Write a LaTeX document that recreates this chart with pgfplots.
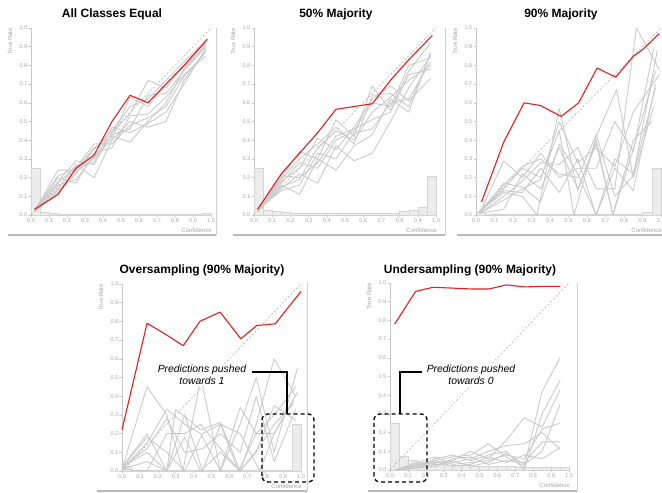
\documentclass[border=0pt]{standalone}
\usepackage{fontspec}
\setmainfont{Liberation Sans}
\usepackage{pgfplots}
\pgfplotsset{compat=1.18}
\definecolor{redl}{RGB}{226,30,30}
\definecolor{gl}{RGB}{202,202,202}
\definecolor{axg}{RGB}{200,200,200}
\definecolor{labg}{RGB}{165,165,165}
\definecolor{hfill}{RGB}{236,236,236}
\definecolor{hdraw}{RGB}{212,212,212}
\definecolor{frameg}{RGB}{185,185,185}
\pgfplotsset{
 calib/.style={
  scale only axis, anchor=south west,
  xmin=0,xmax=1,ymin=0,ymax=1,
  axis lines*=left,
  axis line style={-,draw=axg,line width=0.6pt},
  xtick={0,0.1,0.2,0.3,0.4,0.5,0.6,0.7,0.8,0.9,1},
  ytick={0,0.1,0.2,0.3,0.4,0.5,0.6,0.7,0.8,0.9,1},
  tick align=outside, major tick length=2.5pt,
  tick style={draw=axg,line width=0.5pt},
  ticklabel style={font=\fontsize{5.5}{6}\selectfont, text=labg, inner sep=1pt},
  /pgf/number format/fixed, /pgf/number format/fixed zerofill,
  /pgf/number format/precision=1, /pgf/number format/assume math mode=true,
  clip=false,
 },
 gline/.style={gl, line width=0.9pt, line join=round},
 rline/.style={redl, line width=1.1pt, line join=round},
 hist/.style={ybar interval, fill=hfill, draw=hdraw, line width=0.4pt},
 diag/.style={labg, dash pattern=on 2pt off 2pt, line width=0.5pt},
}
\newcommand{\axlabels}{%
 \node[rotate=90, anchor=east, inner sep=0pt, font=\fontsize{6}{7}\selectfont, text=labg] at ([xshift=-21pt]rel axis cs:0,1) {True Rate};
 \node[anchor=east, inner sep=0pt, font=\fontsize{6}{7}\selectfont, text=labg] at ([yshift=-15pt, xshift=1pt]rel axis cs:1,0) {Confidence};
}
\begin{document}
\begin{tikzpicture}[x=1pt,y=1pt]
\path[use as bounding box] (0,0) rectangle (662,493);
% frames
\draw[frameg, line width=2pt] (8,258) -- (216,258);
\draw[frameg!70, line width=0.8pt] (216,258) -- (216,465);
\draw[frameg, line width=2pt] (233,258) -- (445,258);
\draw[frameg!70, line width=0.8pt] (445,258) -- (445,465);
\draw[frameg, line width=2pt] (457,258) -- (662,258);
\draw[frameg, line width=2pt] (97,2) -- (307,2);
\draw[frameg!70, line width=0.8pt] (307,2) -- (307,210);
\draw[frameg, line width=2pt] (368,2) -- (577,2);
\draw[frameg!70, line width=0.8pt] (577,2) -- (577,210);

% ---------- Panel 1
\begin{axis}[calib, at={(31pt,278pt)}, width=180pt, height=187pt]
\addplot[hist] coordinates {(0,0.25) (0.05,0.015) (0.1,0.008) (0.15,0.004) (0.2,0.003) (0.25,0.003) (0.3,0.003) (0.35,0.003) (0.4,0.003) (0.45,0.003) (0.5,0.003) (0.55,0.003) (0.6,0.003) (0.65,0.003) (0.7,0.003) (0.75,0.003) (0.8,0.003) (0.85,0.003) (0.9,0.004) (0.95,0.01) (1,0.01)};
\addplot[diag] coordinates {(0,0) (1,1)};
\addplot[gline] coordinates {(0.02,0.02) (0.15,0.24) (0.25,0.24) (0.35,0.36) (0.45,0.42) (0.55,0.39) (0.65,0.50) (0.75,0.60) (0.85,0.78) (0.97,0.90)};
\addplot[gline] coordinates {(0.02,0.03) (0.15,0.18) (0.25,0.29) (0.35,0.27) (0.45,0.44) (0.55,0.54) (0.65,0.72) (0.75,0.68) (0.85,0.80) (0.97,0.92)};
\addplot[gline] coordinates {(0.02,0.02) (0.15,0.14) (0.25,0.27) (0.35,0.20) (0.45,0.40) (0.55,0.50) (0.65,0.47) (0.75,0.50) (0.85,0.72) (0.97,0.88)};
\addplot[gline] coordinates {(0.02,0.03) (0.15,0.20) (0.25,0.17) (0.35,0.33) (0.45,0.36) (0.55,0.53) (0.65,0.54) (0.75,0.63) (0.85,0.75) (0.97,0.85)};
\addplot[gline] coordinates {(0.02,0.02) (0.15,0.12) (0.25,0.22) (0.35,0.35) (0.45,0.45) (0.55,0.58) (0.65,0.62) (0.75,0.72) (0.85,0.82) (0.97,0.93)};
\addplot[gline] coordinates {(0.02,0.03) (0.15,0.16) (0.25,0.19) (0.35,0.31) (0.45,0.43) (0.55,0.46) (0.65,0.64) (0.75,0.65) (0.85,0.77) (0.97,0.90)};
\addplot[gline] coordinates {(0.02,0.02) (0.15,0.21) (0.25,0.25) (0.35,0.38) (0.45,0.38) (0.55,0.48) (0.65,0.52) (0.75,0.58) (0.85,0.74) (0.97,0.87)};
\addplot[gline] coordinates {(0.02,0.03) (0.15,0.13) (0.25,0.23) (0.35,0.30) (0.45,0.41) (0.55,0.63) (0.65,0.58) (0.75,0.70) (0.85,0.79) (0.97,0.91)};
\addplot[gline] coordinates {(0.02,0.02) (0.15,0.17) (0.25,0.26) (0.35,0.28) (0.45,0.47) (0.55,0.44) (0.65,0.49) (0.75,0.55) (0.85,0.70) (0.97,0.89)};
\addplot[rline] coordinates {(0.02,0.03) (0.15,0.11) (0.25,0.25) (0.35,0.32) (0.45,0.50) (0.55,0.64) (0.65,0.60) (0.75,0.70) (0.85,0.80) (0.98,0.94)};
\axlabels
\end{axis}

% ---------- Panel 2
\begin{axis}[calib, at={(254pt,278pt)}, width=182pt, height=187pt]
\addplot[hist] coordinates {(0,0.25) (0.05,0.025) (0.1,0.018) (0.15,0.015) (0.2,0.01) (0.25,0.008) (0.3,0.008) (0.35,0.009) (0.4,0.008) (0.45,0.008) (0.5,0.008) (0.55,0.009) (0.6,0.009) (0.65,0.009) (0.7,0.012) (0.75,0.01) (0.8,0.02) (0.85,0.025) (0.9,0.04) (0.95,0.205) (1,0.205)};
\addplot[diag] coordinates {(0,0) (1,1)};
\addplot[gline] coordinates {(0.02,0.02) (0.15,0.20) (0.25,0.34) (0.35,0.30) (0.45,0.51) (0.55,0.42) (0.65,0.69) (0.75,0.56) (0.85,0.77) (0.97,0.92)};
\addplot[gline] coordinates {(0.02,0.03) (0.15,0.16) (0.25,0.11) (0.35,0.30) (0.45,0.24) (0.55,0.37) (0.65,0.43) (0.75,0.62) (0.85,0.55) (0.97,0.87)};
\addplot[gline] coordinates {(0.02,0.02) (0.15,0.14) (0.25,0.22) (0.35,0.17) (0.45,0.37) (0.55,0.29) (0.65,0.33) (0.75,0.50) (0.85,0.68) (0.97,0.85)};
\addplot[gline] coordinates {(0.02,0.03) (0.15,0.18) (0.25,0.25) (0.35,0.41) (0.45,0.35) (0.55,0.47) (0.65,0.62) (0.75,0.69) (0.85,0.61) (0.97,0.73)};
\addplot[gline] coordinates {(0.02,0.02) (0.15,0.15) (0.25,0.19) (0.35,0.36) (0.45,0.45) (0.55,0.40) (0.65,0.55) (0.75,0.63) (0.85,0.72) (0.97,0.80)};
\addplot[gline] coordinates {(0.02,0.02) (0.15,0.17) (0.25,0.28) (0.35,0.25) (0.45,0.40) (0.55,0.45) (0.65,0.60) (0.75,0.58) (0.85,0.80) (0.97,0.84)};
\addplot[gline] coordinates {(0.02,0.03) (0.15,0.13) (0.25,0.16) (0.35,0.33) (0.45,0.30) (0.55,0.44) (0.65,0.46) (0.75,0.60) (0.85,0.62) (0.97,0.82)};
\addplot[gline] coordinates {(0.02,0.02) (0.15,0.19) (0.25,0.30) (0.35,0.38) (0.45,0.47) (0.55,0.38) (0.65,0.64) (0.75,0.65) (0.85,0.58) (0.97,0.86)};
\addplot[gline] coordinates {(0.02,0.03) (0.15,0.21) (0.25,0.20) (0.35,0.28) (0.45,0.42) (0.55,0.46) (0.65,0.51) (0.75,0.55) (0.85,0.75) (0.97,0.78)};
\addplot[rline] coordinates {(0.02,0.03) (0.15,0.22) (0.25,0.33) (0.35,0.44) (0.45,0.565) (0.55,0.58) (0.65,0.595) (0.75,0.72) (0.85,0.83) (0.98,0.96)};
\axlabels
\end{axis}

% ---------- Panel 3
\begin{axis}[calib, at={(476pt,278pt)}, width=185pt, height=187pt]
\addplot[hist] coordinates {(0,0.015) (0.05,0.003) (0.1,0.002) (0.15,0.002) (0.2,0.002) (0.25,0.002) (0.3,0.002) (0.35,0.002) (0.4,0.002) (0.45,0.002) (0.5,0.002) (0.55,0.002) (0.6,0.002) (0.65,0.002) (0.7,0.002) (0.75,0.002) (0.8,0.003) (0.85,0.005) (0.9,0.017) (0.95,0.25) (1,0.25)};
\addplot[diag] coordinates {(0,0) (1,1)};
\addplot[gline] coordinates {(0.02,0.01) (0.15,0.29) (0.25,0.20) (0.35,0.33) (0.45,0.20) (0.55,0.25) (0.65,0.25) (0.75,0.50) (0.85,0.34) (0.96,0.89)};
\addplot[gline] coordinates {(0.02,0.02) (0.15,0.12) (0.25,0.10) (0.33,0.0) (0.45,0.57) (0.55,0.13) (0.65,0.40) (0.74,0.0) (0.85,0.35) (0.97,0.77)};
\addplot[gline] coordinates {(0.02,0.01) (0.15,0.17) (0.25,0.15) (0.35,0.07) (0.45,0.38) (0.55,0.22) (0.65,0.0) (0.75,0.25) (0.85,0.13) (0.97,0.70)};
\addplot[gline] coordinates {(0.02,0.02) (0.15,0.14) (0.25,0.25) (0.35,0.20) (0.45,0.45) (0.53,0.0) (0.65,0.42) (0.76,0.67) (0.85,0.20) (0.96,0.58)};
\addplot[gline] coordinates {(0.02,0.01) (0.15,0.10) (0.25,0.18) (0.35,0.28) (0.45,0.27) (0.55,0.36) (0.65,0.14) (0.75,0.14) (0.867,1.00) (0.99,0.78)};
\addplot[gline] coordinates {(0.02,0.01) (0.15,0.03) (0.25,0.22) (0.35,0.14) (0.45,0.36) (0.55,0.14) (0.65,0.38) (0.74,0.0) (0.85,0.40) (0.95,0.50)};
\addplot[gline] coordinates {(0.02,0.02) (0.15,0.13) (0.25,0.12) (0.35,0.25) (0.45,0.12) (0.55,0.30) (0.65,0.0) (0.75,0.30) (0.85,0.22) (0.97,0.68)};
\addplot[gline] coordinates {(0.02,0.01) (0.15,0.08) (0.25,0.14) (0.35,0.19) (0.45,0.50) (0.55,0.28) (0.65,0.36) (0.75,0.26) (0.85,0.55) (0.99,0.75)};
\addplot[gline] coordinates {(0.02,0.02) (0.15,0.16) (0.25,0.26) (0.35,0.30) (0.45,0.22) (0.55,0.20) (0.65,0.43) (0.75,0.10) (0.85,0.21) (0.98,0.88)};
\addplot[rline] coordinates {(0.03,0.07) (0.15,0.39) (0.26,0.60) (0.35,0.585) (0.46,0.527) (0.555,0.60) (0.655,0.786) (0.755,0.737) (0.85,0.848) (0.905,0.888) (0.99,0.97)};
\axlabels
\end{axis}

% ---------- Panel 4
\begin{axis}[calib, at={(122pt,22pt)}, width=179pt, height=187pt]
\addplot[hist] coordinates {(0,0.025) (0.05,0.005) (0.1,0.002) (0.15,0.002) (0.2,0.002) (0.25,0.002) (0.3,0.002) (0.35,0.002) (0.4,0.002) (0.45,0.002) (0.5,0.002) (0.55,0.002) (0.6,0.002) (0.65,0.002) (0.7,0.002) (0.75,0.002) (0.8,0.002) (0.85,0.003) (0.9,0.005) (0.95,0.25) (1,0.25)};
\addplot[diag] coordinates {(0,0) (1,1)};
\addplot[gline] coordinates {(0.0,0.01) (0.14,0.45) (0.25,0.30) (0.34,0.0) (0.44,0.50) (0.55,0.0) (0.66,0.25) (0.75,0.50) (0.85,0.10) (0.98,0.55)};
\addplot[gline] coordinates {(0.0,0.02) (0.14,0.20) (0.25,0.0) (0.30,0.33) (0.44,0.22) (0.55,0.26) (0.66,0.0) (0.75,0.25) (0.85,0.60) (0.97,0.40)};
\addplot[gline] coordinates {(0.0,0.01) (0.14,0.15) (0.25,0.33) (0.35,0.25) (0.44,0.20) (0.55,0.0) (0.66,0.34) (0.75,0.20) (0.85,0.30) (0.97,0.45)};
\addplot[gline] coordinates {(0.0,0.02) (0.14,0.10) (0.25,0.0) (0.35,0.30) (0.45,0.0) (0.55,0.25) (0.66,0.20) (0.77,0.0) (0.85,0.20) (0.96,0.38)};
\addplot[gline] coordinates {(0.0,0.01) (0.14,0.0) (0.25,0.20) (0.35,0.20) (0.44,0.25) (0.55,0.12) (0.66,0.0) (0.75,0.10) (0.85,0.35) (0.97,0.27)};
\addplot[gline] coordinates {(0.0,0.02) (0.14,0.12) (0.25,0.28) (0.35,0.10) (0.45,0.12) (0.55,0.20) (0.66,0.10) (0.75,0.40) (0.85,0.05) (0.97,0.33)};
\addplot[gline] coordinates {(0.0,0.01) (0.14,0.05) (0.25,0.0) (0.35,0.18) (0.44,0.0) (0.55,0.10) (0.66,0.0) (0.76,0.12) (0.85,0.25) (0.96,0.36)};
\addplot[gline] coordinates {(0.0,0.02) (0.14,0.18) (0.25,0.10) (0.35,0.0) (0.45,0.20) (0.55,0.25) (0.65,0.0) (0.75,0.20) (0.85,0.20) (0.98,0.42)};
\addplot[rline] coordinates {(0.0,0.22) (0.14,0.79) (0.245,0.73) (0.342,0.67) (0.435,0.80) (0.548,0.85) (0.664,0.707) (0.753,0.778) (0.856,0.787) (1.0,0.96)};
\axlabels
\end{axis}

% ---------- Panel 5
\begin{axis}[calib, at={(390pt,23pt)}, width=179pt, height=187pt]
\addplot[hist] coordinates {(0,0.25) (0.05,0.073) (0.1,0.05) (0.15,0.04) (0.2,0.035) (0.25,0.03) (0.3,0.027) (0.35,0.025) (0.4,0.023) (0.45,0.022) (0.5,0.02) (0.55,0.02) (0.6,0.019) (0.65,0.018) (0.7,0.017) (0.75,0.016) (0.8,0.015) (0.85,0.015) (0.9,0.014) (0.95,0.013) (1,0.013)};
\addplot[diag] coordinates {(0,0) (1,1)};
\addplot[gline] coordinates {(0.03,0.0) (0.15,0.02) (0.25,0.05) (0.35,0.07) (0.45,0.08) (0.55,0.14) (0.65,0.07) (0.75,0.02) (0.85,0.42) (0.95,0.60)};
\addplot[gline] coordinates {(0.03,0.0) (0.15,0.03) (0.25,0.04) (0.35,0.05) (0.45,0.10) (0.55,0.06) (0.65,0.16) (0.75,0.28) (0.85,0.23) (0.95,0.43)};
\addplot[gline] coordinates {(0.03,0.0) (0.15,0.01) (0.25,0.06) (0.35,0.08) (0.45,0.05) (0.55,0.08) (0.65,0.10) (0.75,0.0) (0.85,0.30) (0.95,0.48)};
\addplot[gline] coordinates {(0.03,0.0) (0.15,0.02) (0.25,0.03) (0.35,0.04) (0.45,0.06) (0.55,0.10) (0.65,0.13) (0.75,0.14) (0.85,0.20) (0.95,0.11)};
\addplot[gline] coordinates {(0.03,0.0) (0.15,0.04) (0.25,0.07) (0.35,0.03) (0.45,0.04) (0.55,0.05) (0.65,0.08) (0.75,0.06) (0.85,0.22) (0.95,0.25)};
\addplot[gline] coordinates {(0.03,0.0) (0.15,0.02) (0.25,0.02) (0.35,0.06) (0.45,0.07) (0.55,0.03) (0.65,0.05) (0.75,0.04) (0.85,0.15) (0.95,0.15)};
\addplot[gline] coordinates {(0.03,0.0) (0.15,0.03) (0.25,0.05) (0.35,0.02) (0.45,0.03) (0.55,0.07) (0.65,0.04) (0.75,0.08) (0.85,0.06) (0.95,0.12)};
\addplot[gline] coordinates {(0.03,0.0) (0.15,0.01) (0.25,0.02) (0.35,0.05) (0.45,0.02) (0.55,0.04) (0.65,0.09) (0.75,0.03) (0.85,0.10) (0.95,0.35)};
\addplot[rline] coordinates {(0.026,0.78) (0.143,0.955) (0.24,0.977) (0.343,0.973) (0.454,0.968) (0.553,0.968) (0.65,0.99) (0.752,0.979) (0.855,0.982) (0.952,0.982)};
\axlabels
\end{axis}

% titles
\node[font=\bfseries\fontsize{12}{14}\selectfont] at (112,479) {All Classes Equal};
\node[font=\bfseries\fontsize{12}{14}\selectfont] at (336,479) {50\% Majority};
\node[font=\bfseries\fontsize{12}{14}\selectfont] at (561,479) {90\% Majority};
\node[font=\bfseries\fontsize{12}{14}\selectfont] at (202,223) {Oversampling (90\% Majority)};
\node[font=\bfseries\fontsize{12}{14}\selectfont] at (470,223) {Undersampling (90\% Majority)};

% annotations
\draw[black, line width=1.3pt, dash pattern=on 4pt off 3pt, rounded corners=6pt] (262,11) rectangle (314,79);
\draw[black, line width=1.2pt] (252,121) -- (287,121) -- (287,79);
\node[font=\itshape\fontsize{10.4}{12.5}\selectfont, align=center, fill=white, inner sep=1pt] at (202,118) {Predictions pushed\\towards 1};
\draw[black, line width=1.3pt, dash pattern=on 4pt off 3pt, rounded corners=6pt] (374,11) rectangle (427,79);
\draw[black, line width=1.2pt] (400,79) -- (400,121) -- (422,121);
\node[font=\itshape\fontsize{10.4}{12.5}\selectfont, align=center, fill=white, inner sep=1pt] at (471,118) {Predictions pushed\\towards 0};
\end{tikzpicture}
\end{document}
